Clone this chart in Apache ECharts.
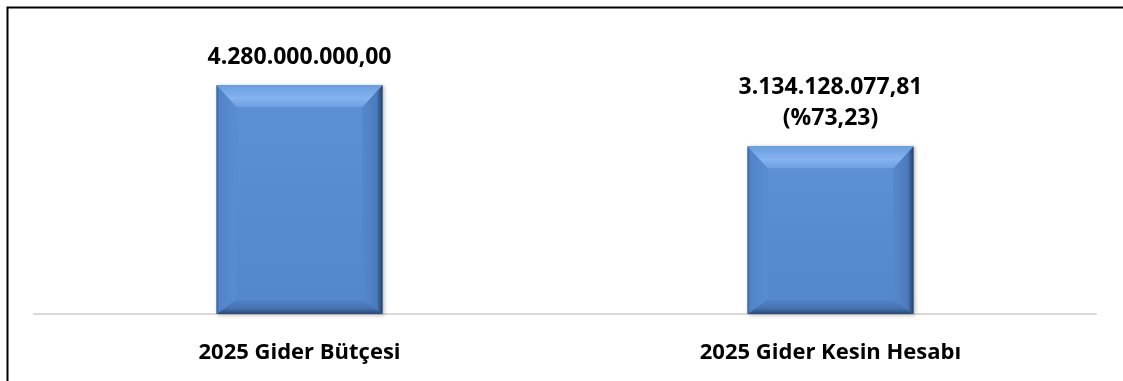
<!DOCTYPE html>
<html>
<head>
<meta charset="utf-8">
<script src="https://cdn.jsdelivr.net/npm/echarts@6/dist/echarts.min.js"></script>
<style>
  html, body { margin: 0; padding: 0; background: #fff; }
  #chart { width: 1123px; height: 381px; }
</style>
</head>
<body>
<div id="chart"></div>
<script>
// Budget vs. realised expenditure, 2025
const categories = ['2025 Gider Bütçesi', '2025 Gider Kesin Hesabı'];
const amounts = [4280000000.00, 3134128077.81];
const budgetIndex = 0;

function formatTr(v) {
  const parts = v.toFixed(2).split('.');
  const intPart = parts[0].replace(/\B(?=(\d{3})+(?!\d))/g, '.');
  return intPart + ',' + parts[1];
}

function labelFor(i) {
  const txt = formatTr(amounts[i]);
  if (i === budgetIndex) return txt;
  const pct = (amounts[i] / amounts[budgetIndex] * 100).toFixed(2).replace('.', ',');
  return txt + '\n(%' + pct + ')';
}

const FONT = '"Open Sans", "Liberation Sans", sans-serif';
const chart = echarts.init(document.getElementById('chart'), null, { renderer: 'canvas' });

// Bevelled bar: face plus four sloped edges
function renderBevelBar(params, api) {
  const idx = api.value(0);
  const val = api.value(1);
  const top = api.coord([idx, val]);
  const base = api.coord([idx, 0]);
  const w = 166;
  const x0 = top[0] - w / 2, x1 = top[0] + w / 2;
  const y0 = top[1], y1 = base[1];
  const bt = 22, bs = 20, bb = 14;
  const ix0 = x0 + bs, ix1 = x1 - bs, iy0 = y0 + bt, iy1 = y1 - bb;

  const faceGrad = new echarts.graphic.LinearGradient(0, 0, 0, 1, [
    { offset: 0, color: '#5c8fd4' },
    { offset: 1, color: '#5587cc' }
  ]);
  const topGrad = new echarts.graphic.LinearGradient(0, 0, 0, 1, [
    { offset: 0, color: '#6b9edf' },
    { offset: 0.6, color: '#84b3ee' },
    { offset: 1, color: '#6f9fe0' }
  ]);
  const leftGrad = new echarts.graphic.LinearGradient(0, 0, 1, 0, [
    { offset: 0, color: '#3c649c' },
    { offset: 0.15, color: '#5283c8' },
    { offset: 1, color: '#5a8dd2' }
  ]);
  const rightGrad = new echarts.graphic.LinearGradient(0, 0, 1, 0, [
    { offset: 0, color: '#5688cd' },
    { offset: 0.7, color: '#4b7bbd' },
    { offset: 1, color: '#253f68' }
  ]);
  const bottomGrad = new echarts.graphic.LinearGradient(0, 0, 0, 1, [
    { offset: 0, color: '#5283c6' },
    { offset: 0.6, color: '#4572b0' },
    { offset: 1, color: '#2a4672' }
  ]);

  const children = [
    {
      type: 'rect',
      shape: { x: x0, y: y0, width: w, height: y1 - y0 },
      style: { fill: '#4f80c4', shadowBlur: 4, shadowOffsetX: 1, shadowOffsetY: 1, shadowColor: 'rgba(0,0,0,0.3)' }
    },
    { type: 'rect', shape: { x: ix0, y: iy0, width: ix1 - ix0, height: iy1 - iy0 }, style: { fill: faceGrad } },
    { type: 'polygon', shape: { points: [[x0, y0], [ix0, iy0], [ix0, iy1], [x0, y1]] }, style: { fill: leftGrad } },
    { type: 'polygon', shape: { points: [[x1, y0], [x1, y1], [ix1, iy1], [ix1, iy0]] }, style: { fill: rightGrad } },
    { type: 'polygon', shape: { points: [[x0, y1], [ix0, iy1], [ix1, iy1], [x1, y1]] }, style: { fill: bottomGrad } },
    { type: 'polygon', shape: { points: [[x0, y0], [x1, y0], [ix1, iy0], [ix0, iy0]] }, style: { fill: topGrad } },
    {
      type: 'text',
      style: {
        text: labelFor(idx),
        x: top[0],
        y: y0 - 12,
        align: 'center',
        verticalAlign: 'bottom',
        fill: '#000',
        font: 'bold 23px ' + FONT,
        lineHeight: 31
      }
    }
  ];
  return { type: 'group', children: children };
}

chart.setOption({
  backgroundColor: '#fff',
  animation: false,
  grid: { left: 34, right: 27, top: 85, bottom: 67 },
  xAxis: {
    type: 'category',
    data: categories,
    axisLine: { show: true, lineStyle: { color: '#d9d9d9', width: 2 } },
    axisTick: { show: false },
    axisLabel: {
      color: '#000',
      fontFamily: FONT,
      fontWeight: 'bold',
      fontSize: 22,
      margin: 28
    }
  },
  yAxis: {
    type: 'value',
    min: 0,
    max: amounts[budgetIndex],
    show: false,
    splitLine: { show: false }
  },
  series: [{
    type: 'custom',
    renderItem: renderBevelBar,
    data: amounts.map((v, i) => [i, v]),
    encode: { x: 0, y: 1 },
    clip: false
  }],
  graphic: [{
    type: 'rect',
    z: 100,
    shape: { x: 7.5, y: 7.5, width: 1200, height: 500 },
    style: { fill: null, stroke: '#000', lineWidth: 2 }
  }]
});
</script>
</body>
</html>
